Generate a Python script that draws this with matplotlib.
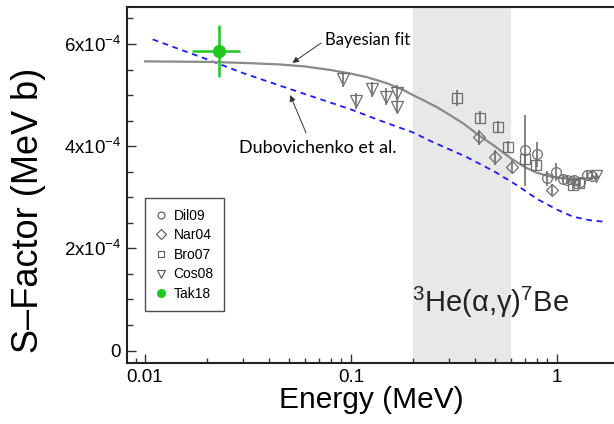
import numpy as np
import matplotlib
matplotlib.use("Agg")
import matplotlib.pyplot as plt
from matplotlib.lines import Line2D
from matplotlib.ticker import FixedLocator, FuncFormatter, LogLocator, NullFormatter

plt.rcParams['font.family'] = ['Liberation Sans', 'DejaVu Sans']
plt.rcParams['mathtext.fontset'] = 'custom'
plt.rcParams['mathtext.rm'] = 'Liberation Sans'
plt.rcParams['mathtext.it'] = 'Liberation Sans:italic'
plt.rcParams['mathtext.bf'] = 'Liberation Sans:bold'

UNIT = 1e-4  # S-factor values below are in units of 1e-4 MeV b

# Bayesian fit
fit_E = [0.01, 0.02, 0.03, 0.045, 0.06, 0.08, 0.1, 0.12, 0.15, 0.18, 0.2, 0.22,
         0.26, 0.3, 0.35, 0.42, 0.5, 0.6, 0.7, 0.8, 0.9, 1.0, 1.2, 1.4, 1.6]
fit_S = [5.66, 5.65, 5.63, 5.60, 5.56, 5.49, 5.42, 5.35, 5.23, 5.10, 5.00, 4.92,
         4.77, 4.62, 4.45, 4.21, 4.00, 3.76, 3.59, 3.48, 3.42, 3.38, 3.36, 3.37, 3.40]

# Dubovichenko et al.
dub_E = [0.0109, 0.02, 0.03, 0.048, 0.0686, 0.1, 0.139, 0.2, 0.25, 0.36, 0.5,
         0.65, 0.8, 1.0, 1.2, 1.45, 1.7]
dub_S = [6.09, 5.70, 5.43, 5.15, 4.94, 4.72, 4.50, 4.27, 4.08, 3.80, 3.50,
         3.22, 2.97, 2.76, 2.62, 2.55, 2.52]

# Dil09
dil_E = [0.70, 0.80, 0.895, 0.993, 1.07, 1.12, 1.21, 1.30, 1.40, 1.48]
dil_S = [3.92, 3.84, 3.37, 3.50, 3.36, 3.34, 3.33, 3.30, 3.44, 3.41]
dil_err = [0.69, 0.25, 0.15, 0.18, 0.08, 0.08, 0.08, 0.08, 0.08, 0.08]

# Nar04
nar_E = [0.42, 0.503, 0.61, 0.946]
nar_S = [4.17, 3.78, 3.60, 3.15]
nar_err = [0.15, 0.15, 0.12, 0.10]

# Bro07
bro_E = [0.327, 0.425, 0.518, 0.583, 0.70, 0.79, 1.20, 1.28]
bro_S = [4.94, 4.56, 4.38, 3.99, 3.74, 3.63, 3.24, 3.28]
bro_err = [0.15, 0.12, 0.12, 0.12, 0.12, 0.12, 0.10, 0.10]

# Cos08
cos_E = [0.092, 0.106, 0.1265, 0.148, 0.168, 0.167, 1.55]
cos_S = [5.31, 4.89, 5.11, 4.97, 5.05, 4.77, 3.42]
cos_err = [0.15, 0.16, 0.15, 0.16, 0.15, 0.13, 0.06]

# Tak18
tak_E = [0.023]
tak_S = [5.87]
tak_xlo = [0.0169]
tak_xhi = [0.0291]
tak_err = [0.51]

band = (0.2, 0.6)
y_ticks = [0, 2, 4, 6]

W, H = 614, 424
fig = plt.figure(figsize=(W / 100, H / 100), dpi=100)
ax = fig.add_axes([126.7 / W, 1 - 363.3 / H, (615 - 126.7) / W, (363.3 - 6.7) / H])

def s(v):
    return np.asarray(v, dtype=float) * UNIT

ax.axvspan(*band, color='#e8e8e8', lw=0, zorder=0)

ax.plot(dub_E, s(dub_S), color='#1a1aff', lw=1.3, ls=(0, (3.2, 2.6)), zorder=2)
ax.plot(fit_E, s(fit_S), color='#8a8a8a', lw=1.6, zorder=3)

gray = '#6e6e6e'
common = dict(ls='none', mfc='none', mec=gray, mew=0.9, ecolor=gray,
              elinewidth=1.2, capsize=0, zorder=4)
ax.errorbar(dil_E, s(dil_S), yerr=s(dil_err), marker='o', ms=7, **common)
ax.errorbar(nar_E, s(nar_S), yerr=s(nar_err), marker='D', ms=6.5, **common)
ax.errorbar(bro_E, s(bro_S), yerr=s(bro_err), marker='s', ms=6.5, **common)
ax.errorbar(cos_E, s(cos_S), yerr=s(cos_err), marker='v', ms=8, **common)

tak_xerr = [np.subtract(tak_E, tak_xlo), np.subtract(tak_xhi, tak_E)]
green = '#1ec81e'
ax.errorbar(tak_E, s(tak_S), xerr=tak_xerr, yerr=s(tak_err), marker='o', ms=8.5,
            color=green, mec=green, ecolor=green, elinewidth=1.8, capsize=0,
            ls='none', zorder=6)

ax.set_xscale('log')
ax.set_xlim(0.00815, 1.92)
ax.set_ylim(-0.25e-4, 6.73e-4)

ax.xaxis.set_major_locator(LogLocator(base=10, numticks=10))
ax.xaxis.set_minor_locator(LogLocator(base=10, subs=np.arange(2, 10), numticks=10))
ax.xaxis.set_minor_formatter(NullFormatter())
ax.xaxis.set_major_formatter(FuncFormatter(lambda v, p: f"{v:g}"))

ax.yaxis.set_major_locator(FixedLocator([t * UNIT for t in y_ticks]))
ax.yaxis.set_minor_locator(FixedLocator(list(np.arange(-0.0, 6.75, 0.5) * UNIT)))

def yfmt(v, p):
    n = int(round(v / UNIT))
    return "0" if n == 0 else rf"{n}x10$^{{-4}}$"

ax.yaxis.set_major_formatter(FuncFormatter(yfmt))

ax.tick_params(which='both', direction='in', top=False, right=False,
               labelsize=13.5, width=1.0, color='#333333')
ax.tick_params(axis='x', which='major', length=6.5, pad=4)
ax.tick_params(axis='x', which='minor', length=3.5)
ax.tick_params(axis='y', which='major', length=6.5, pad=4)
ax.tick_params(axis='y', which='minor', length=4)

for side in ['left', 'bottom', 'top']:
    ax.spines[side].set_linewidth(1.5)
    ax.spines[side].set_color('#222222')
ax.spines['right'].set_visible(False)

fig.text(29 / W, 1 - 210 / H, 'S–Factor (MeV b)', rotation=90, ha='center',
         va='center', fontsize=26)
fig.text(371 / W, 1 - 400 / H, 'Energy (MeV)', ha='center', va='center', fontsize=21.5)

ax.text(0.198, 0.76e-4, r'$^{3}$He(α,γ)$^{7}$Be', fontsize=21, color='#222222',
        ha='left', va='baseline', zorder=7)

ann_font = ['Lato', 'DejaVu Sans']
arrow = dict(arrowstyle='-|>', color='#333333', lw=0.7, mutation_scale=9,
             shrinkA=0, shrinkB=0)
ax.annotate('', xy=(0.052, 5.63e-4), xytext=(0.0717, 6.02e-4), arrowprops=arrow)
ax.text(0.075, 6.08e-4, 'Bayesian fit', fontsize=12, family=ann_font,
        ha='left', va='center')
ax.annotate('', xy=(0.0507, 5.0e-4), xytext=(0.0606, 4.26e-4), arrowprops=arrow)
ax.text(0.166, 3.96e-4, 'Dubovichenko et al.', fontsize=13, family=ann_font,
        ha='right', va='center')

lg_gray = '#555555'
handles = [
    Line2D([], [], ls='none', marker='o', ms=5, mfc='none', mec=lg_gray, mew=0.8),
    Line2D([], [], ls='none', marker='D', ms=5, mfc='none', mec=lg_gray, mew=0.8),
    Line2D([], [], ls='none', marker='s', ms=4.5, mfc='none', mec=lg_gray, mew=0.8),
    Line2D([], [], ls='none', marker='v', ms=6, mfc='none', mec=lg_gray, mew=0.8),
    Line2D([], [], ls='none', marker='o', ms=5.5, mfc=green, mec=green),
]
labels = ['Dil09', 'Nar04', 'Bro07', 'Cos08', 'Tak18']
leg = ax.legend(handles, labels, loc='upper left',
                bbox_to_anchor=(145 / W, 1 - 198.3 / H), bbox_transform=fig.transFigure,
                fontsize=10, frameon=True, fancybox=False, edgecolor='#222222',
                handlelength=0.8, handletextpad=0.5, labelspacing=0.4,
                borderpad=0.75, borderaxespad=0)
leg.get_frame().set_linewidth(1.0)

fig.savefig('out.png', dpi=100)
